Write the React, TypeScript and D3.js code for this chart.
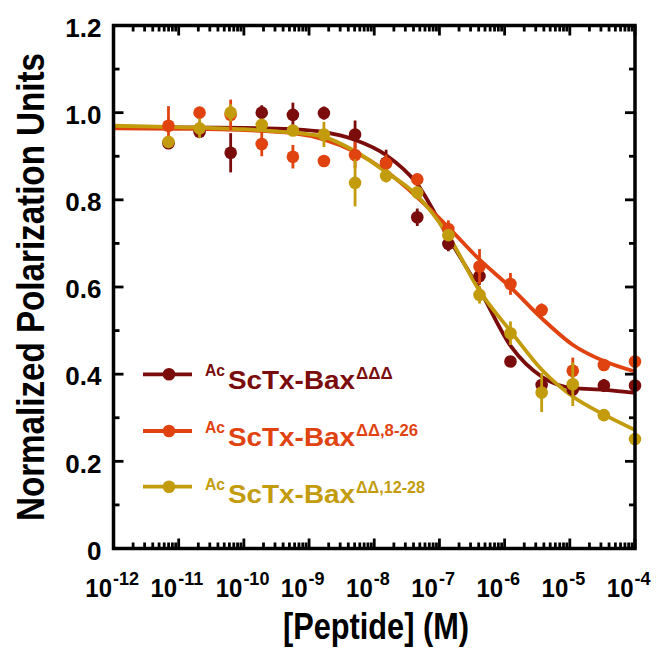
import React from "react";
import * as d3 from "d3";

const concentrations = [6.97e-12, 2.09e-11, 6.27e-11, 1.88e-10, 5.65e-10, 1.69e-9, 5.08e-9, 1.52e-8, 4.57e-8, 1.37e-7, 4.12e-7, 1.23e-6, 3.7e-6, 1.11e-5, 3.33e-5, 1.0e-4];

const darkValues = [0.930, 0.956, 0.908, 1.000, 0.995, 0.999, 0.950, 0.885, 0.760, 0.699, 0.625, 0.429, 0.375, 0.365, 0.374, 0.374];
const darkErrors = [0.01, 0.01, 0.045, 0.017, 0.028, 0.015, 0.032, 0.03, 0.02, 0.017, 0.02, 0.01, 0.01, 0.01, 0.015, 0.01];

const orangeValues = [0.970, 1.000, 0.995, 0.928, 0.899, 0.889, 0.903, 0.884, 0.847, 0.733, 0.647, 0.607, 0.547, 0.408, 0.421, 0.429];
const orangeErrors = [0.045, 0.01, 0.035, 0.028, 0.027, 0.01, 0.03, 0.02, 0.01, 0.02, 0.04, 0.025, 0.015, 0.03, 0.01, 0.01];

const goldValues = [0.933, 0.964, 1.000, 0.972, 0.959, 0.950, 0.839, 0.855, 0.817, 0.719, 0.582, 0.494, 0.358, 0.377, 0.306, 0.251];
const goldErrors = [0.012, 0.022, 0.02, 0.01, 0.01, 0.029, 0.054, 0.015, 0.01, 0.01, 0.02, 0.027, 0.045, 0.05, 0.01, 0.01];

const fitConcentrations = [1e-12, 1e-11, 1e-10, 5.62e-10, 1.62e-9, 5.01e-9, 1.51e-8, 4.47e-8, 1.35e-7, 4.17e-7, 1.26e-6, 3.72e-6, 1.12e-5, 3.47e-5, 1e-4];
const darkFit = [0.968, 0.966, 0.965, 0.962, 0.956, 0.938, 0.903, 0.838, 0.715, 0.593, 0.463, 0.394, 0.368, 0.364, 0.357];
const orangeFit = [0.964, 0.963, 0.960, 0.953, 0.939, 0.910, 0.866, 0.807, 0.738, 0.662, 0.598, 0.528, 0.467, 0.429, 0.406];
const goldFit = [0.970, 0.967, 0.962, 0.954, 0.945, 0.912, 0.864, 0.811, 0.719, 0.590, 0.497, 0.410, 0.348, 0.306, 0.272];

const yTickLabels = ["0", "0.2", "0.4", "0.6", "0.8", "1.0", "1.2"];
const yTickValues = [0, 0.2, 0.4, 0.6, 0.8, 1.0, 1.2];
const xExponents = ["-12", "-11", "-10", "-9", "-8", "-7", "-6", "-5", "-4"];

const seriesNames = ["ΔΔΔ", "ΔΔ,8-26", "ΔΔ,12-28"];
const seriesColors = ["#7a0c0c", "#e0430f", "#c39c0d"];

const FONT = "'Liberation Sans', Arial, Helvetica, sans-serif";

export default function App() {
  const W = 662, H = 650;
  const left = 113.5, right = 635, top = 25.5, bottom = 548.5;
  const x = d3.scaleLog().domain([1e-12, 1e-4]).range([left, right]);
  const y = d3.scaleLinear().domain([0, 1.2]).range([bottom, top]);

  const series = [
    { values: darkValues, errors: darkErrors, fit: darkFit },
    { values: orangeValues, errors: orangeErrors, fit: orangeFit },
    { values: goldValues, errors: goldErrors, fit: goldFit },
  ];

  const line = d3
    .line<number>()
    .x((_, i) => x(fitConcentrations[i]))
    .y((d) => y(d))
    .curve(d3.curveMonotoneX);

  const xTicks = x.ticks();
  const yMinor = d3.range(1, 12, 2).map((k) => k / 10);

  const legendLineY = [374.3, 431, 486.7];
  const legendBase = [389, 446, 503];
  const supLengths = [36.7, 62, 69];

  return (
    <svg width={W} height={H} style={{ position: "absolute", left: 0, top: 0, background: "#fff" }} fontFamily={FONT}>
      <rect width={W} height={H} fill="#fff" />
      {series.map((s, si) => (
        <path key={"f" + si} d={line(s.fit) || ""} fill="none" stroke={seriesColors[si]} strokeWidth={3.8} />
      ))}
      {series.map((s, si) => (
        <g key={"p" + si}>
          {s.values.map((v, i) => (
            <line key={i} x1={x(concentrations[i])} x2={x(concentrations[i])} y1={y(v - s.errors[i])} y2={y(v + s.errors[i])} stroke={seriesColors[si]} strokeWidth={2.8} />
          ))}
          {s.values.map((v, i) => (
            <circle key={"c" + i} cx={x(concentrations[i])} cy={y(v)} r={6.3} fill={seriesColors[si]} />
          ))}
        </g>
      ))}
      <rect x={left} y={top} width={right - left} height={bottom - top} fill="none" stroke="#000" strokeWidth={3.5} />
      {xTicks.map((t, i) => {
        const major = Math.abs(Math.log10(t) - Math.round(Math.log10(t))) < 1e-6;
        const len = major ? 10 : 6;
        const px = x(t);
        return (
          <g key={"xt" + i}>
            <line x1={px} x2={px} y1={bottom} y2={bottom - len} stroke="#000" strokeWidth={2.8} />
            <line x1={px} x2={px} y1={top} y2={top + len} stroke="#000" strokeWidth={2.8} />
          </g>
        );
      })}
      {yTickValues.map((t, i) => (
        <g key={"yt" + i}>
          <line x1={left} x2={left + 10} y1={y(t)} y2={y(t)} stroke="#000" strokeWidth={2.8} />
          <line x1={right} x2={right - 10} y1={y(t)} y2={y(t)} stroke="#000" strokeWidth={2.8} />
          <text x={101.5} y={y(t)} dy="0.43em" textAnchor="end" fontSize={26} fontWeight="bold">{yTickLabels[i]}</text>
        </g>
      ))}
      {yMinor.map((t, i) => (
        <g key={"ym" + i}>
          <line x1={left} x2={left + 6} y1={y(t)} y2={y(t)} stroke="#000" strokeWidth={2.8} />
          <line x1={right} x2={right - 6} y1={y(t)} y2={y(t)} stroke="#000" strokeWidth={2.8} />
        </g>
      ))}
      {xExponents.map((e, i) => {
        const px = x(Math.pow(10, -12 + i));
        return (
          <g key={"xl" + i}>
            <text x={px - 1.5} y={596.5} textAnchor="end" fontSize={26} fontWeight="bold" textLength={26.7} lengthAdjust="spacingAndGlyphs">10</text>
            <text x={px - 0.5} y={585} textAnchor="start" fontSize={18} fontWeight="bold">{e}</text>
          </g>
        );
      })}
      <text x={376} y={639} textAnchor="middle" fontSize={36} fontWeight="bold" textLength={186} lengthAdjust="spacingAndGlyphs">[Peptide] (M)</text>
      <text transform={`translate(43.5,287) rotate(-90)`} textAnchor="middle" fontSize={38} fontWeight="bold" textLength={468} lengthAdjust="spacingAndGlyphs">Normalized Polarization Units</text>
      {seriesNames.map((n, i) => (
        <g key={"lg" + i} fill={seriesColors[i]}>
          <line x1={143} x2={192} y1={legendLineY[i]} y2={legendLineY[i]} stroke={seriesColors[i]} strokeWidth={3.8} />
          <circle cx={169} cy={legendLineY[i]} r={6.3} />
          <text x={205} y={legendBase[i] - 13} fontSize={16.5} fontWeight="bold" textLength={20} lengthAdjust="spacingAndGlyphs">Ac</text>
          <text x={228} y={legendBase[i]} fontSize={26.5} fontWeight="bold" textLength={127} lengthAdjust="spacingAndGlyphs">ScTx-Bax</text>
          <text x={356} y={legendBase[i] - 10} fontSize={16} fontWeight="bold" textLength={supLengths[i]} lengthAdjust="spacingAndGlyphs">{n}</text>
        </g>
      ))}
    </svg>
  );
}
